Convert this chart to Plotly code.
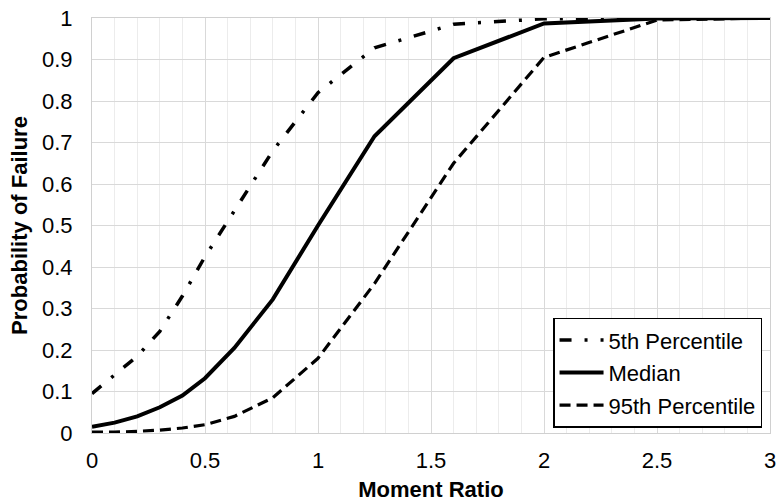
import plotly.graph_objects as go

# Moment ratio sample points
moment_ratio = [0, 0.1, 0.2, 0.3, 0.4, 0.5, 0.63, 0.8, 1.0, 1.25, 1.6, 2.0, 2.5, 3.0]

# Probability of failure for each curve
p5 = [0.095, 0.14, 0.185, 0.245, 0.33, 0.425, 0.535, 0.68, 0.82, 0.928, 0.985, 0.998, 1.0, 1.0]
median = [0.015, 0.025, 0.04, 0.062, 0.09, 0.132, 0.205, 0.322, 0.5, 0.715, 0.903, 0.987, 0.999, 1.0]
p95 = [0.002, 0.002, 0.004, 0.007, 0.012, 0.02, 0.04, 0.085, 0.18, 0.36, 0.65, 0.905, 0.995, 1.0]

series_names = ["5th Percentile", "Median", "95th Percentile"]

x_ticks = [0, 0.5, 1, 1.5, 2, 2.5, 3]
x_tick_text = ["0", "0.5", "1", "1.5", "2", "2.5", "3"]
y_ticks = [0, 0.1, 0.2, 0.3, 0.4, 0.5, 0.6, 0.7, 0.8, 0.9, 1.0]
y_tick_text = ["0", "0.1", "0.2", "0.3", "0.4", "0.5", "0.6", "0.7", "0.8", "0.9", "1"]

FONT = "Liberation Sans, Arial, sans-serif"
FS = 22

fig = go.Figure()
styles = [
    dict(width=3.5, dash="12px,13px,3px,13px"),
    dict(width=4, dash="solid"),
    dict(width=3.2, dash="11px,6px"),
]
for i, (name, ys) in enumerate(zip(series_names, [p5, median, p95])):
    fig.add_trace(go.Scatter(
        x=moment_ratio, y=ys, name=name, mode="lines",
        line=dict(color="black", **styles[i]),
        legendgroup=f"g{i}",
    ))

fig.update_layout(
    width=777, height=502,
    margin=dict(l=92, r=7, t=18, b=69),
    paper_bgcolor="white", plot_bgcolor="white",
    font=dict(family=FONT, size=FS, color="black"),
    showlegend=True,
    legend=dict(
        x=0.680, y=0.278, xanchor="left", yanchor="top",
        bgcolor="white", bordercolor="black", borderwidth=1.5,
        font=dict(family=FONT, size=FS, color="black"),
        tracegroupgap=1, traceorder="grouped",
        itemwidth=44,
    ),
    xaxis=dict(
        range=[0, 3], tickvals=x_ticks, ticktext=x_tick_text,
        automargin=False,
        showgrid=True, gridcolor="#d9d9d9", gridwidth=1.2,
        minor=dict(dtick=0.1, showgrid=True, gridcolor="#ececec", gridwidth=1),
        showline=True, linecolor="#d0d0d0", linewidth=1.2, mirror=True,
        zeroline=False, ticks="outside", ticklen=7, tickcolor="rgba(0,0,0,0)",
        tickfont=dict(family=FONT, size=FS, color="black"),
        title=dict(text="<b>Moment Ratio</b>", font=dict(family=FONT, size=FS), standoff=14),
    ),
    yaxis=dict(
        range=[0, 1], tickvals=y_ticks, ticktext=y_tick_text,
        automargin=False,
        showgrid=True, gridcolor="#d9d9d9", gridwidth=1.2,
        showline=True, linecolor="#d0d0d0", linewidth=1.2, mirror=True,
        zeroline=False, ticks="outside", ticklen=14, tickcolor="rgba(0,0,0,0)",
        tickfont=dict(family=FONT, size=FS, color="black"),
        title=dict(text="<b>Probability of Failure</b>", font=dict(family=FONT, size=FS), standoff=8),
    ),
)

fig.write_html("out.html")
